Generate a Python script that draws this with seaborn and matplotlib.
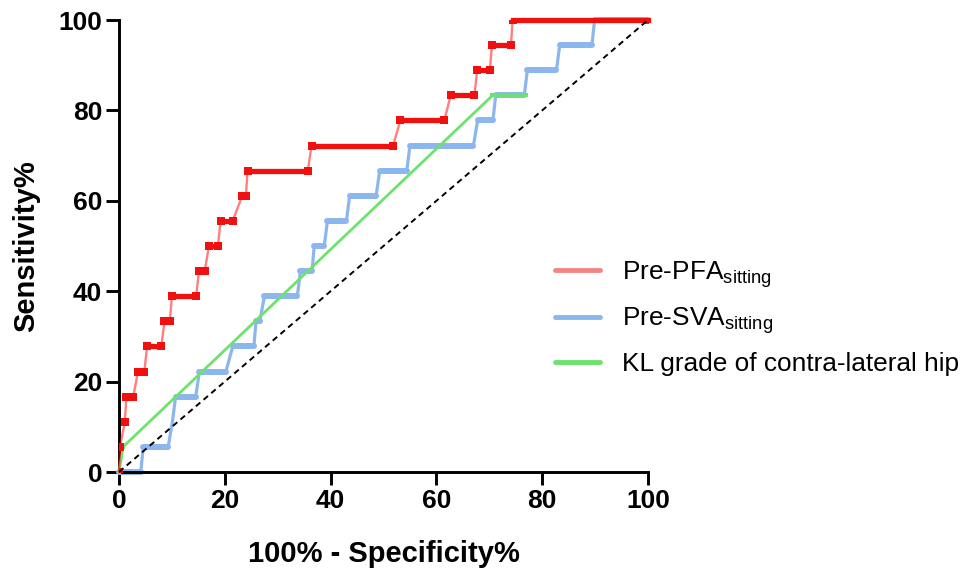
import matplotlib
matplotlib.use("Agg")
import matplotlib.pyplot as plt
import seaborn as sns
import pandas as pd
import numpy as np
from matplotlib.lines import Line2D

# ---- data ----
pfa_x = [0, 0.2, 1.1, 1.4, 2.7, 3.6, 4.8, 5.3, 8.0, 8.6, 9.6, 10.0, 14.6, 15.1, 16.2, 17.0, 18.7,
         19.2, 21.5, 23.3, 24.0, 24.3, 35.7, 36.4, 51.8, 53.2, 61.5, 62.7, 67.2, 67.7, 70.1,
         70.5, 74.1, 74.4, 100]
pfa_y = [0, 5.6, 11.1, 16.7, 16.7, 22.2, 22.2, 27.8, 27.8, 33.3, 33.3, 38.9, 38.9, 44.4, 44.4,
         50.0, 50.0, 55.6, 55.6, 61.1, 61.1, 66.7, 66.7, 72.2, 72.2, 77.8, 77.8, 83.3, 83.3,
         88.9, 88.9, 94.4, 94.4, 100, 100]

sva_x = [0, 4.1, 4.6, 9.3, 10.1, 10.7, 14.5, 15.2, 20.2, 21.5, 25.5, 25.9, 26.6, 27.5, 33.7,
         34.3, 36.5, 36.9, 38.8, 39.4, 43.0, 43.6, 48.6, 49.3, 54.4, 55.0, 67.0, 67.8, 70.7,
         71.2, 76.6, 77.2, 82.7, 83.3, 89.4, 89.9, 100]
sva_y = [0, 0, 5.6, 5.6, 11.1, 16.7, 16.7, 22.2, 22.2, 27.8, 27.8, 33.3, 33.3, 38.9, 38.9,
         44.4, 44.4, 50.0, 50.0, 55.6, 55.6, 61.1, 61.1, 66.7, 66.7, 72.2, 72.2, 77.8, 77.8,
         83.3, 83.3, 88.9, 88.9, 94.4, 94.4, 100, 100]

kl_x = [0, 0.8, 70.6, 77.0]
kl_y = [0, 5.6, 83.3, 83.3]

ref_x = [0, 100]
ref_y = [0, 100]

labels = [r"Pre-PFA$_{\mathrm{sitting}}$", r"Pre-SVA$_{\mathrm{sitting}}$",
          "KL grade of contra-lateral hip"]
xticks = [0, 20, 40, 60, 80, 100]
yticks = [0, 20, 40, 60, 80, 100]

# ---- style ----
sns.set_style("ticks")
plt.rcParams["font.family"] = ["Liberation Sans", "DejaVu Sans"]
plt.rcParams["mathtext.fontset"] = "custom"
plt.rcParams["mathtext.rm"] = "Liberation Sans"
plt.rcParams["mathtext.it"] = "Liberation Sans:italic"
plt.rcParams["mathtext.bf"] = "Liberation Sans:bold"
plt.rcParams["text.color"] = "black"
plt.rcParams["axes.labelcolor"] = "black"

RED_LINE = (1.0, 0.0, 0.0, 0.5)
RED = "#f01010"
BLUE = "#8cb6ee"
GREEN = "#6de36d"

fig = plt.figure(figsize=(9.65, 5.74), dpi=100)
ax = fig.add_axes([119 / 965, 1 - 472 / 574, (648 - 119) / 965, (472 - 20) / 574])


def flat_segments(xs, ys):
    rows = []
    k = 0
    for i in range(len(xs) - 1):
        if ys[i] == ys[i + 1]:
            rows.append((k, xs[i], ys[i]))
            rows.append((k, xs[i + 1], ys[i + 1]))
            k += 1
    return pd.DataFrame(rows, columns=["seg", "x", "y"])


# blue curve
sva_df = pd.DataFrame({"x": sva_x, "y": sva_y})
sns.lineplot(data=sva_df, x="x", y="y", sort=False, estimator=None, color=BLUE,
             lw=2.3, ax=ax, zorder=2)
sns.lineplot(data=flat_segments(sva_x, sva_y), x="x", y="y", units="seg", estimator=None,
             sort=False, color=BLUE, lw=4.3, solid_capstyle="round", ax=ax, zorder=2)

# green curve
kl_df = pd.DataFrame({"x": kl_x, "y": kl_y})
sns.lineplot(data=kl_df, x="x", y="y", sort=False, estimator=None, color=GREEN, lw=2.0,
             marker="s", markersize=3, markeredgewidth=0, ax=ax, zorder=3)

# red curve
pfa_df = pd.DataFrame({"x": pfa_x, "y": pfa_y})
sns.lineplot(data=pfa_df, x="x", y="y", sort=False, estimator=None, color=RED_LINE,
             lw=1.7, ax=ax, zorder=4)
sns.lineplot(data=flat_segments(pfa_x, pfa_y), x="x", y="y", units="seg", estimator=None,
             sort=False, color=RED, lw=3.8, solid_capstyle="projecting", ax=ax, zorder=4)
sns.scatterplot(data=pfa_df, x="x", y="y", marker="s", s=26, color=RED, linewidth=0,
                ax=ax, zorder=4)

# reference diagonal
ref_df = pd.DataFrame({"x": ref_x, "y": ref_y})
sns.lineplot(data=ref_df, x="x", y="y", sort=False, estimator=None, color="black", lw=1.4,
             dashes=False, ax=ax, zorder=5)
ax.lines[-1].set_linestyle((0, (3, 2.2)))

# axes
ax.set_xlim(0, 100)
ax.set_ylim(0, 100)
ax.set_xticks(xticks)
ax.set_yticks(yticks)
ax.set_xticklabels([str(t) for t in xticks], fontsize=19, fontweight="bold")
ax.set_yticklabels([str(t) for t in yticks], fontsize=19, fontweight="bold")
ax.tick_params(axis="both", length=9.5, width=2.1, pad=2.5, colors="black")
for side in ["left", "bottom"]:
    ax.spines[side].set_linewidth(2.1)
    ax.spines[side].set_color("black")
sns.despine(ax=ax)
for sp in ax.spines.values():
    sp.set_clip_on(False)
ax.set_xlabel("100% - Specificity%", fontsize=21, fontweight="bold", labelpad=20)
ax.set_ylabel("Sensitivity%", fontsize=21, fontweight="bold", labelpad=13)
for ln in ax.lines:
    ln.set_clip_on(False)

# legend
handles = [Line2D([], [], color="#f28585", lw=3.5),
           Line2D([], [], color=BLUE, lw=3.5),
           Line2D([], [], color=GREEN, lw=3.5)]
leg = fig.legend(handles, labels, loc="upper left", bbox_to_anchor=(0.575, 0.549),
                 frameon=False, fontsize=18.9, handlelength=1.72, handletextpad=0.83,
                 labelspacing=0.6, borderpad=0, borderaxespad=0)

fig.savefig("out.png", dpi=100)
